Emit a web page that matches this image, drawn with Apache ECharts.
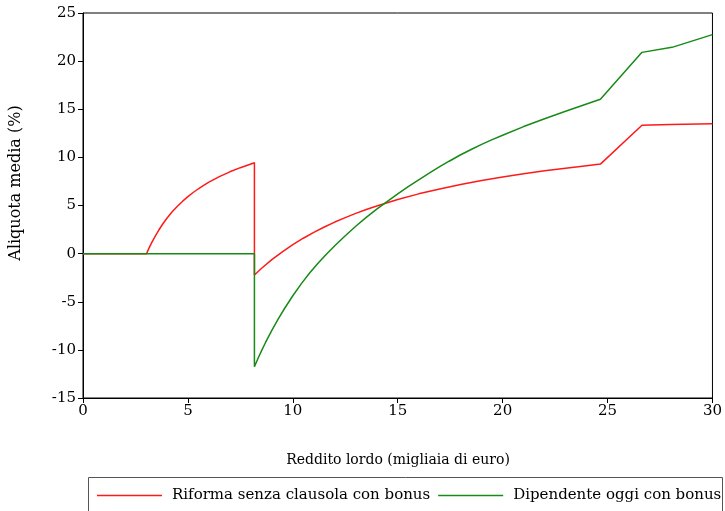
<!DOCTYPE html>
<html>
<head>
<meta charset="utf-8">
<script src="https://cdn.jsdelivr.net/npm/echarts@6/dist/echarts.min.js"></script>
<style>html,body{margin:0;padding:0;background:#fff}#c{width:725px;height:511px}</style>
</head>
<body>
<div id="c"></div>
<script>
const xTicks = [0, 5, 10, 15, 20, 25, 30];
const yTicks = [-15, -10, -5, 0, 5, 10, 15, 20, 25];
const seriesNames = ["Riforma senza clausola con bonus", "Dipendente oggi con bonus"];
const redX = [0, 3.03, 3.15, 3.3, 3.45, 3.6, 3.8, 4.0, 4.25, 4.5, 4.75, 5.0, 5.25, 5.5, 5.75, 6.0, 6.5, 7.0, 7.5, 8.17,
  8.17, 8.5, 9, 9.5, 10, 10.5, 11, 11.5, 12, 12.5, 13, 13.5, 14, 15, 16, 17, 18, 19, 20, 21, 22, 23, 24, 24.66, 26.64, 28, 30];
const redY = [0, 0, 0.6, 1.25, 1.85, 2.4, 3.08, 3.68, 4.34, 4.93, 5.45, 5.92, 6.35, 6.74, 7.1, 7.43, 8.0, 8.5, 8.93, 9.44,
  -2.22, -1.55, -0.63, 0.19, 0.93, 1.6, 2.21, 2.77, 3.28, 3.74, 4.18, 4.58, 4.95, 5.62, 6.21, 6.72, 7.18, 7.59, 7.97, 8.3, 8.6, 8.88, 9.14, 9.3, 13.33, 13.42, 13.5];
const greenX = [0, 8.17, 8.17, 8.35, 8.5, 8.7, 9.0, 9.3, 9.62, 10.0, 10.4, 10.8, 11.2, 11.6, 12.0, 12.5, 13.0, 13.5, 14.0, 14.36,
  15, 15.5, 16, 16.5, 17, 17.45, 18, 18.5, 19, 19.5, 20, 21, 22, 23, 24, 24.66, 26.64, 28.07, 30];
const greenY = [0, 0, -11.75, -10.85, -10.13, -9.23, -7.97, -6.8, -5.65, -4.38, -3.14, -2.02, -1.0, -0.06, 0.82, 1.86, 2.84, 3.76, 4.62, 5.2,
  6.2, 6.95, 7.67, 8.36, 9.03, 9.6, 10.27, 10.82, 11.35, 11.85, 12.3, 13.2, 14.02, 14.8, 15.55, 16.03, 20.91, 21.43, 22.75];

const pair = (xs, ys) => xs.map((x, i) => [x, ys[i]]);
const FONT = 'DejaVu Serif';
const chart = echarts.init(document.getElementById('c'), null, {renderer: 'canvas'});
chart.setOption({
  animation: false,
  backgroundColor: '#fff',
  grid: {left: 83, right: 11, top: 13, bottom: 113, show: true, borderColor: '#000', borderWidth: 1, backgroundColor: 'transparent'},
  xAxis: {
    type: 'value', min: xTicks[0], max: xTicks[xTicks.length - 1], interval: 5,
    axisLine: {onZero: false, lineStyle: {color: '#000', width: 1}},
    axisTick: {show: true, length: 5, lineStyle: {color: '#000'}},
    axisLabel: {color: '#000', fontFamily: FONT, fontSize: 15, margin: 6},
    splitLine: {show: false}
  },
  yAxis: {
    type: 'value', min: yTicks[0], max: yTicks[yTicks.length - 1], interval: 5,
    axisLine: {onZero: false, lineStyle: {color: '#000', width: 1}},
    axisTick: {show: true, length: 5, lineStyle: {color: '#000'}},
    axisLabel: {color: '#000', fontFamily: FONT, fontSize: 15, margin: 7},
    splitLine: {show: false}
  },
  legend: {
    left: 97, top: 488, padding: 0, width: 720, itemWidth: 65, itemHeight: 1.5, itemGap: 8, icon: 'rect',
    textStyle: {fontFamily: FONT, fontSize: 15, color: '#000', padding: [0, 0, 0, 5]},
    data: seriesNames
  },
  graphic: [
    {type: 'rect', shape: {x: 88.5, y: 477.5, width: 634, height: 60}, style: {fill: 'none', stroke: '#555', lineWidth: 1}, z: -1},
    {type: 'text', x: 398, y: 460, style: {x: 0, y: 0, text: 'Reddito lordo (migliaia di euro)', fontFamily: FONT, fontSize: 14, fill: '#000', textAlign: 'center', textVerticalAlign: 'middle'}},
    {type: 'text', rotation: Math.PI / 2, x: 16, y: 183, style: {x: 0, y: 0, text: 'Aliquota media (%)', fontFamily: FONT, fontSize: 16, fill: '#000', textAlign: 'center', textVerticalAlign: 'middle'}}
  ],
  series: [
    {name: seriesNames[0], type: 'line', data: pair(redX, redY), symbol: 'none', smooth: false, z: 2, lineStyle: {color: '#ff1a1a', width: 1.5}, itemStyle: {color: '#ff1a1a'}},
    {name: seriesNames[1], type: 'line', data: pair(greenX, greenY), symbol: 'none', smooth: false, z: 3, lineStyle: {color: '#178a17', width: 1.5}, itemStyle: {color: '#178a17'}}
  ]
});
</script>
</body>
</html>
